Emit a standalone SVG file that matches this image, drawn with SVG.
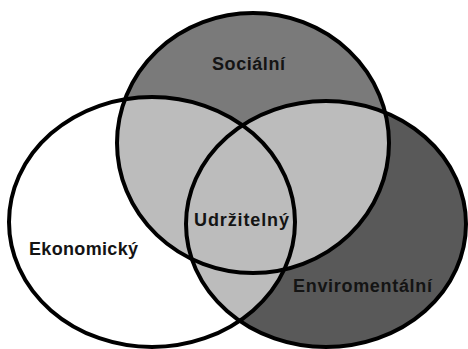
<svg xmlns="http://www.w3.org/2000/svg" width="468" height="349" viewBox="0 0 468 349">
  <style>
    .lbl { font-family: "Liberation Sans", Arial, sans-serif; font-weight: bold; font-size: 18px; fill: #141414; }
    .edge { fill: none; stroke: #000; stroke-width: 4; }
  </style>
  <defs>
    <ellipse id="eTop" cx="253" cy="143" rx="136" ry="130"/>
    <ellipse id="eLeft" cx="152" cy="222" rx="143" ry="125"/>
    <ellipse id="eRight" cx="326" cy="224" rx="140" ry="123"/>
    <clipPath id="cLeft"><use href="#eLeft"/></clipPath>
    <clipPath id="cRight"><use href="#eRight"/></clipPath>
  </defs>
  <rect width="468" height="349" fill="#fff"/>
  <g id="fills">
    <use href="#eLeft" fill="#ffffff"/>
    <use href="#eRight" fill="#595959"/>
    <use href="#eTop" fill="#7a7a7a"/>
    <use href="#eTop" fill="#bcbcbc" clip-path="url(#cLeft)"/>
    <use href="#eTop" fill="#bcbcbc" clip-path="url(#cRight)"/>
    <use href="#eLeft" fill="#bcbcbc" clip-path="url(#cRight)"/>
  </g>
  <g id="connectors"></g>
  <g id="socialni">
    <use href="#eTop" class="edge"/>
    <text class="lbl" x="212" y="70" textLength="73">Sociální</text>
  </g>
  <g id="ekonomicky">
    <use href="#eLeft" class="edge"/>
    <text class="lbl" x="29" y="255" textLength="109">Ekonomický</text>
  </g>
  <g id="enviromentalni">
    <use href="#eRight" class="edge"/>
    <text class="lbl" x="293" y="292" textLength="139">Enviromentální</text>
  </g>
  <g id="udrzitelny">
    <text class="lbl" x="194" y="226" textLength="95">Udržitelný</text>
  </g>
</svg>
